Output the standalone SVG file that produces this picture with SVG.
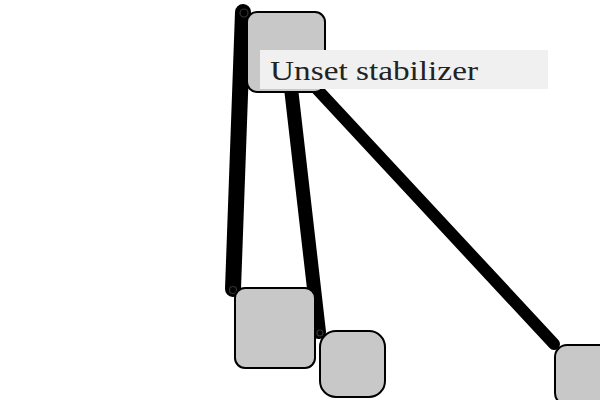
<svg xmlns="http://www.w3.org/2000/svg" width="600" height="400" viewBox="0 0 600 400">
<style>
.node{fill:#c8c8c8;stroke:#000;stroke-width:2}
.edge{stroke:#000;stroke-linecap:round;fill:none}
.end{fill:none;stroke:#333;stroke-width:1.2}
.lbl{font-family:"Liberation Serif","DejaVu Serif",serif;font-size:28px;fill:#222}
</style>
<rect width="600" height="400" fill="#fff"/>
<g id="connectors">
<line class="edge" x1="243" y1="12" x2="233" y2="289" stroke-width="16"/>
<line class="edge" x1="291" y1="88" x2="319" y2="332" stroke-width="14"/>
<line class="edge" x1="316" y1="88" x2="554" y2="344" stroke-width="12"/>
<circle class="end" cx="244" cy="13" r="4"/>
<circle class="end" cx="233" cy="290" r="3.5"/>
<circle class="end" cx="320" cy="333" r="3"/>
</g>
<g id="node-top"><rect class="node" x="247" y="12" width="78" height="80" rx="10"/></g>
<g id="node-left"><rect class="node" x="235" y="288" width="80" height="80" rx="10"/></g>
<g id="node-mid"><rect class="node" x="320" y="331" width="65" height="66" rx="16"/></g>
<g id="node-right"><rect class="node" x="555" y="345" width="60" height="60" rx="12"/></g>
<g id="label">
<rect x="260" y="50" width="288" height="39" fill="#f0f0f0"/>
<text class="lbl" x="270" y="80" textLength="208" lengthAdjust="spacingAndGlyphs">Unset stabilizer</text>
</g>
</svg>
